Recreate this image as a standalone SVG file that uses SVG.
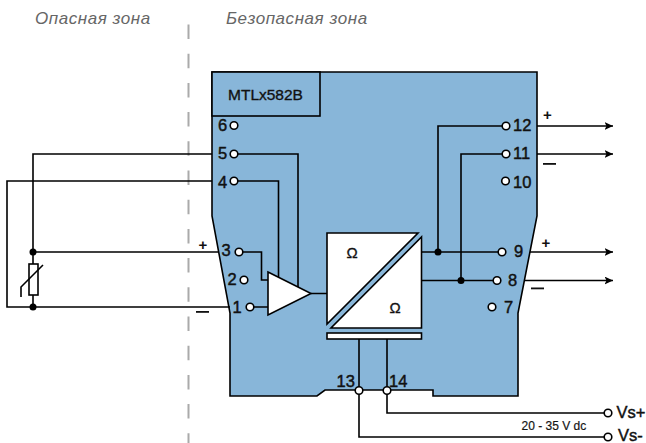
<svg xmlns="http://www.w3.org/2000/svg" width="646" height="443" viewBox="0 0 646 443">
<style>
text{font-family:"Liberation Sans",Arial,sans-serif;fill:#111}
.t{font-size:16.500px;stroke:#111;stroke-width:.45px}
.w{fill:none;stroke:#000;stroke-width:1.6}
.term{fill:#fff;stroke:#000;stroke-width:1.6}
.dot{fill:#000}
.box{fill:#fff;stroke:#000;stroke-width:1.6}
.z{font-size:17px;font-style:italic;fill:#666;letter-spacing:.55px}
.o{font-size:15px;font-weight:bold;text-anchor:middle}
.m{font-size:15px;text-anchor:middle;stroke:#111;stroke-width:.35px}
</style>
<defs><marker id="a" markerUnits="userSpaceOnUse" markerWidth="9" markerHeight="8" refX="8.500" refY="4" orient="auto"><path d="M0 0L8.500 4L0 8L2 4Z" fill="#000"/></marker></defs>
<text class="z" x="35" y="24">Опасная зона</text>
<text class="z" x="226" y="24">Безопасная зона</text>
<line id="barrier" x1="188.500" y1="24.500" x2="188.500" y2="443" stroke="#aaa" stroke-width="2" stroke-dasharray="14.500 14.700"/>
<g id="module">
<path d="M212 72H537V216L518 313V396H433V390H325L317 396H230V313L212 216Z" fill="#88b6d9" stroke="#000" stroke-width="1.600"/>
<rect x="212" y="72" width="108" height="44" fill="#88b6d9" stroke="#000" stroke-width="1.600"/>
<text x="228" y="100" font-size="15.500" stroke="#111" stroke-width=".35">MTLx582B</text>
</g>
<g id="connectors">
<path class="w" d="M212 154H33V307M212 181H7V307H230M33 252H219"/>
<path class="w" d="M234 154H298V287M234 181H278.500V282"/>
<path class="w" d="M239 252H261.500V280H268M250 307H268M311 293.500H327"/>
<path class="w" d="M422 252H502M422 280.500H497M506 126H438V252M506 154H461V280.500"/>
<path class="w" marker-end="url(#a)" d="M537 126H613"/>
<path class="w" marker-end="url(#a)" d="M537 154H613"/>
<path class="w" marker-end="url(#a)" d="M530 252H613"/>
<path class="w" marker-end="url(#a)" d="M525 280.500H613"/>
<path class="w" d="M359 339V437H608M387 339V413H608"/>
<circle class="dot" cx="33" cy="252" r="3.500"/><circle class="dot" cx="33" cy="307" r="3.500"/>
<circle class="dot" cx="438" cy="252" r="3.500"/><circle class="dot" cx="461" cy="280.500" r="3.500"/>
</g>
<g id="sensor">
<rect class="box" x="29" y="264" width="9" height="31"/>
<path class="w" d="M21 297V287L43 265"/>
</g>
<g id="amplifier"><path class="box" d="M268 272L311 293.500L268 315Z"/></g>
<g id="isolator">
<path class="box" d="M327 233H418L327 324Z"/>
<path class="box" d="M421.500 237V328H331Z"/>
<text class="m" x="352" y="258">Ω</text>
<text class="m" x="395" y="313">Ω</text>
<rect class="box" x="327" y="333" width="94.500" height="6"/>
</g>
<g id="terminals">
<g id="t6"><circle class="term" cx="234" cy="125.500" r="3.800"/><text class="t" x="218" y="131">6</text></g>
<g id="t5"><circle class="term" cx="234" cy="154" r="3.800"/><text class="t" x="218" y="159">5</text></g>
<g id="t4"><circle class="term" cx="234" cy="181" r="3.800"/><text class="t" x="218" y="187.500">4</text></g>
<g id="t3"><circle class="term" cx="239" cy="252" r="3.800"/><text class="t" x="221.500" y="256">3</text></g>
<g id="t2"><circle class="term" cx="244" cy="280" r="3.800"/><text class="t" x="227.500" y="285">2</text></g>
<g id="t1"><circle class="term" cx="250" cy="307" r="3.800"/><text class="t" x="232.500" y="312.500">1</text></g>
<g id="t12"><circle class="term" cx="506" cy="126" r="3.800"/><text class="t" x="513" y="131">12</text></g>
<g id="t11"><circle class="term" cx="506" cy="154" r="3.800"/><text class="t" x="513" y="159">11</text></g>
<g id="t10"><circle class="term" cx="505.500" cy="181" r="3.800"/><text class="t" x="513" y="188">10</text></g>
<g id="t9"><circle class="term" cx="502" cy="252" r="3.800"/><text class="t" x="514" y="257">9</text></g>
<g id="t8"><circle class="term" cx="497" cy="280.500" r="3.800"/><text class="t" x="508" y="285.500">8</text></g>
<g id="t7"><circle class="term" cx="492" cy="307" r="3.800"/><text class="t" x="504" y="312.500">7</text></g>
<g id="t13"><circle class="term" cx="359" cy="390.500" r="3.800"/><text class="t" x="336.500" y="387">13</text></g>
<g id="t14"><circle class="term" cx="387" cy="390.500" r="3.800"/><text class="t" x="389" y="387">14</text></g>
<g id="vsp"><circle class="term" cx="608" cy="413" r="3.800"/><text class="t" x="616.500" y="418">Vs+</text></g>
<g id="vsm"><circle class="term" cx="608" cy="437" r="3.800"/><text class="t" x="618" y="441">Vs-</text></g>
</g>
<g id="labels">
<text class="o" x="203" y="250">+</text><text class="o" x="547.500" y="119.500">+</text><text class="o" x="546" y="248">+</text>
<rect x="196" y="311" width="13" height="1.800" fill="#111"/>
<rect x="543" y="163" width="13" height="1.800" fill="#111"/>
<rect x="531" y="287.500" width="13" height="1.800" fill="#111"/>
<text x="521.500" y="430" font-size="12" stroke="#222" stroke-width=".2" fill="#222">20 - 35 V dc</text>
</g>
</svg>
